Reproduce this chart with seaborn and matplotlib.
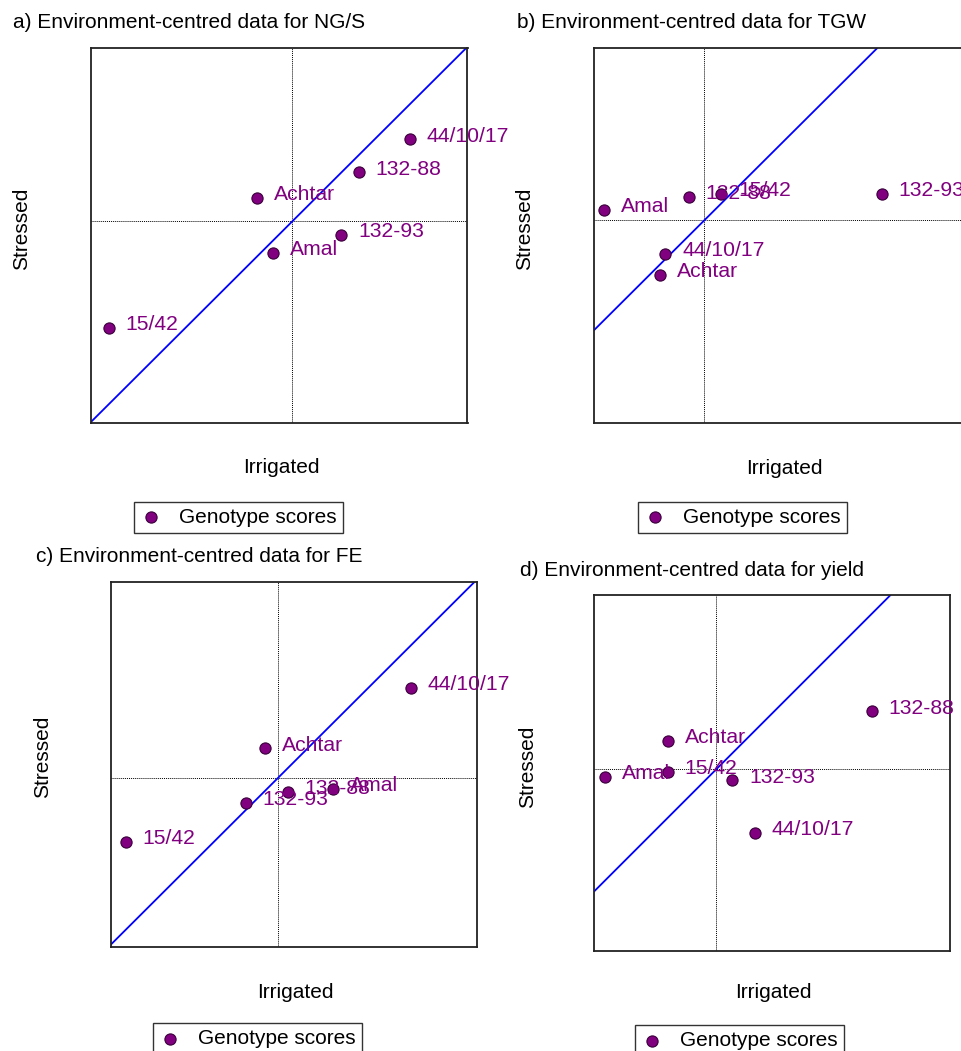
import numpy as np
import pandas as pd
import matplotlib
matplotlib.use("Agg")
import matplotlib.pyplot as plt
import seaborn as sns

# genotypes, same order in every panel
genotypes = ['Achtar', 'Amal', '15/42', '44/10/17', '132-88', '132-93']

# environment-centred scores (irrigated, stressed)
ngs_irr = [-0.93, -0.51, -4.87, 3.11, 1.76, 1.30]
ngs_str = [0.61, -0.85, -2.85, 2.18, 1.30, -0.36]

tgw_irr = [-1.17, -2.66, 0.46, -1.03, -0.41, 4.72]
tgw_str = [-1.46, 0.28, 0.70, -0.90, 0.62, 0.72]

fe_irr = [-0.34, 1.51, -4.15, 3.63, 0.28, -0.88]
fe_str = [0.81, -0.31, -1.75, 2.47, -0.39, -0.69]

yld_irr = [-1.36, -3.13, -1.37, 1.08, 4.37, 0.45]
yld_str = [0.79, -0.21, -0.07, -1.79, 1.62, -0.32]

titles = ['a) Environment-centred data for NG/S',
          'b) Environment-centred data for TGW',
          'c) Environment-centred data for FE',
          'd) Environment-centred data for yield']

sns.set_style("white")
plt.rcParams['font.family'] = ['Liberation Sans', 'DejaVu Sans']
plt.rcParams['text.color'] = 'black'

W, H = 961, 1051
fig = plt.figure(figsize=(W / 100, H / 100), dpi=100)

def fx(px):
    return px / W

def fy(py):
    return 1 - py / H

# panel layout in pixels: axes box (left, top, right, bottom), limits, text spots
panels = [
    dict(irr=ngs_irr, st=ngs_str, box=(91, 47.5, 467.5, 422.7),
         xlim=(-5.35, 4.65), ylim=(-5.37, 4.63),
         title=(13, 22), xlab=(281, 468), ylab=(22, 229), leg=(134, 501.7)),
    dict(irr=tgw_irr, st=tgw_str, box=(594, 48.2, 970, 422.7),
         xlim=(-2.93, 7.07), ylim=(-5.40, 4.60),
         title=(517, 22), xlab=(784, 469), ylab=(525, 229), leg=(638, 501.6)),
    dict(irr=fe_irr, st=fe_str, box=(111, 582, 477, 947),
         xlim=(-4.56, 5.44), ylim=(-4.63, 5.37),
         title=(36, 557), xlab=(295, 992), ylab=(43, 757), leg=(153, 1023)),
    dict(irr=yld_irr, st=yld_str, box=(594, 595, 950, 951),
         xlim=(-3.44, 6.56), ylim=(-5.11, 4.89),
         title=(520, 571), xlab=(773, 993), ylab=(528, 767), leg=(635, 1025)),
]

purple = '#800080'
fs = 15

for p, title in zip(panels, titles):
    l, t, r, b = p['box']
    ax = fig.add_axes([fx(l), fy(b), (r - l) / W, (b - t) / H])
    df = pd.DataFrame({'Irrigated': p['irr'], 'Stressed': p['st'], 'Genotype': genotypes})

    ax.axhline(0, color='black', lw=0.7, ls=(0, (1, 1)), zorder=1)
    ax.axvline(0, color='black', lw=0.7, ls=(0, (1, 1)), zorder=1)
    ax.axline((0, 0), slope=1, color='#0000ff', lw=1.3, zorder=2)

    sns.scatterplot(data=df, x='Irrigated', y='Stressed', ax=ax, s=65,
                    color=purple, edgecolor='#3a003a', linewidth=0.8,
                    label='Genotype scores', zorder=3)
    for _, row in df.iterrows():
        ax.annotate(row['Genotype'], (row['Irrigated'], row['Stressed']),
                    xytext=(12, 2.4), textcoords='offset points',
                    va='center', ha='left', color=purple, fontsize=15.2,
                    annotation_clip=False, zorder=4)

    ax.set_xlim(p['xlim'])
    ax.set_ylim(p['ylim'])
    ax.set_xticks([])
    ax.set_yticks([])
    for sp in ax.spines.values():
        sp.set_color('#222222')
        sp.set_linewidth(1.3)
    ax.set_xlabel('')
    ax.set_ylabel('')

    fig.text(fx(p['title'][0]), fy(p['title'][1]), title, fontsize=fs,
             ha='left', va='center')
    fig.text(fx(p['xlab'][0]), fy(p['xlab'][1]), 'Irrigated', fontsize=fs,
             ha='center', va='center')
    fig.text(fx(p['ylab'][0]), fy(p['ylab'][1]), 'Stressed', fontsize=fs,
             ha='center', va='center', rotation=90)

    leg = ax.legend(loc='upper left', bbox_to_anchor=(fx(p['leg'][0]), fy(p['leg'][1])),
                    bbox_transform=fig.transFigure, frameon=True, fancybox=False,
                    edgecolor='black', fontsize=fs, borderpad=0.3, borderaxespad=0,
                    handlelength=1.0, handletextpad=0.85)
    leg.get_frame().set_linewidth(1.0)

fig.savefig('out.png', dpi=100)
